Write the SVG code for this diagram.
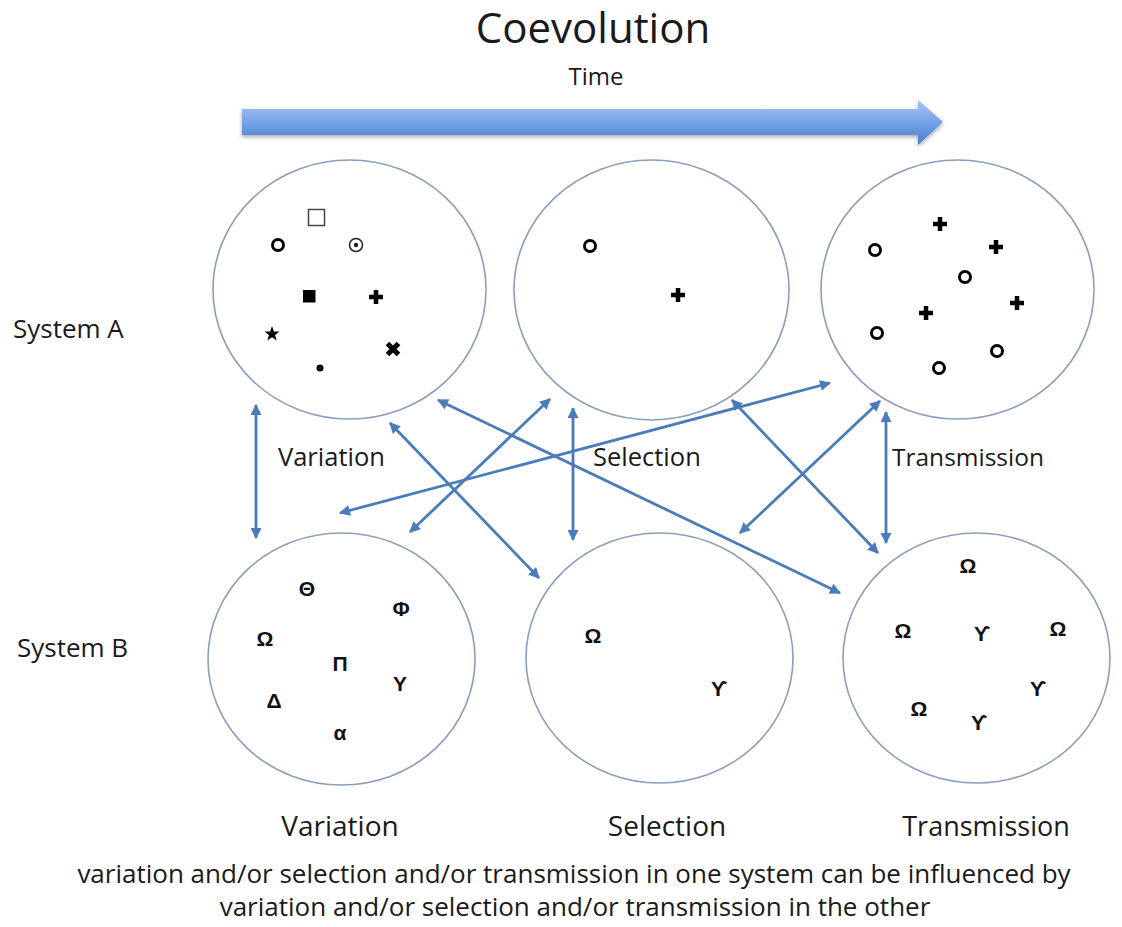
<svg xmlns="http://www.w3.org/2000/svg" xmlns:xlink="http://www.w3.org/1999/xlink" width="1122" height="927" viewBox="0 0 1122 927">
<defs>
<style>
.circ{fill:none;stroke:#8b9ebb;stroke-width:1.6}
.conn line{stroke:#4a7cba;stroke-width:2.8;marker-start:url(#ah);marker-end:url(#ah)}
.lbl{font-family:"Open Sans","Liberation Sans",sans-serif;fill:#1a1a1a}
.gk{font-family:"Liberation Sans","DejaVu Sans",sans-serif;font-weight:bold;font-size:21px;text-anchor:middle;fill:#111}
.ring{fill:none;stroke:#000;stroke-width:3}
.plus{fill:none;stroke:#000;stroke-width:4.5}
</style>
<marker id="ah" viewBox="0 0 10 10" refX="9" refY="5" markerWidth="12" markerHeight="11" markerUnits="userSpaceOnUse" orient="auto-start-reverse">
<path d="M0,0 L10,5 L0,10 z" fill="#4a7cba"/>
</marker>
<linearGradient id="tg" x1="0" y1="0" x2="0" y2="1">
<stop offset="0" stop-color="#a9c7f2"/>
<stop offset="0.5" stop-color="#74a2e6"/>
<stop offset="1" stop-color="#4d7dc6"/>
</linearGradient>
<filter id="sh" x="-5%" y="-50%" width="110%" height="200%">
<feDropShadow dx="0" dy="2" stdDeviation="2" flood-color="#000" flood-opacity="0.35"/>
</filter>
<circle id="ring" r="5.5" class="ring"/>
<path id="plus" d="M-7,0H7M0,-7V7" class="plus"/>
</defs>

<g id="title">
<text class="lbl" x="593" y="43" font-size="42" text-anchor="middle">Coevolution</text>
<text class="lbl" x="596" y="85" font-size="24" text-anchor="middle">Time</text>
<path d="M242,109 H918 V100 L943,122 L918,145 V135 H242 Z" fill="url(#tg)" filter="url(#sh)"/>
</g>

<g id="row-labels">
<text class="lbl" x="13" y="338" font-size="26">System A</text>
<text class="lbl" x="17" y="657" font-size="26">System B</text>
</g>

<g id="A-variation">
<ellipse class="circ" cx="349.5" cy="289.5" rx="136.5" ry="129.5"/>
<rect x="308.5" y="209.5" width="16" height="16" fill="none" stroke="#444" stroke-width="1.5"/>
<use xlink:href="#ring" x="278" y="245"/>
<circle cx="356" cy="245" r="6.5" fill="none" stroke="#222" stroke-width="1.5"/>
<circle cx="356" cy="245" r="2.2" fill="#222"/>
<rect x="303" y="290" width="12.5" height="12.5" fill="#000"/>
<use xlink:href="#plus" x="376" y="297"/>
<polygon transform="translate(272,334)" points="0,-8 1.88,-2.59 7.61,-2.47 3.04,0.99 4.7,6.47 0,3.2 -4.7,6.47 -3.04,0.99 -7.61,-2.47 -1.88,-2.59" fill="#000"/>
<path d="M387.5,343.5 L398.5,354.5 M398.5,343.5 L387.5,354.5" stroke="#000" stroke-width="5"/>
<circle cx="320" cy="368" r="3.5" fill="#000"/>
</g>

<g id="A-selection">
<ellipse class="circ" cx="651.5" cy="290" rx="137.5" ry="130"/>
<use xlink:href="#ring" x="590" y="246"/>
<use xlink:href="#plus" x="678" y="295"/>
</g>

<g id="A-transmission">
<ellipse class="circ" cx="957.5" cy="289.5" rx="136.5" ry="129.5"/>
<use xlink:href="#plus" x="940" y="224"/>
<use xlink:href="#plus" x="996" y="247"/>
<use xlink:href="#ring" x="875" y="250"/>
<use xlink:href="#ring" x="965" y="277"/>
<use xlink:href="#plus" x="1017" y="303"/>
<use xlink:href="#plus" x="926" y="313"/>
<use xlink:href="#ring" x="877" y="333"/>
<use xlink:href="#ring" x="997" y="351"/>
<use xlink:href="#ring" x="939" y="368"/>
</g>

<g id="B-variation">
<ellipse class="circ" cx="341.5" cy="659" rx="133.5" ry="126"/>
<text class="gk" x="307" y="596">Θ</text>
<text class="gk" x="401" y="616">Φ</text>
<text class="gk" x="265" y="646">Ω</text>
<text class="gk" x="340" y="671">Π</text>
<text class="gk" x="400" y="691">Υ</text>
<text class="gk" x="274" y="708">Δ</text>
<text class="gk" x="340" y="740">α</text>
</g>

<g id="B-selection">
<ellipse class="circ" cx="659.5" cy="658" rx="133.5" ry="125"/>
<text class="gk" x="593" y="643">Ω</text>
<text class="gk" x="719" y="696">ϒ</text>
</g>

<g id="B-transmission">
<ellipse class="circ" cx="976.5" cy="658" rx="133.5" ry="125"/>
<text class="gk" x="968" y="573">Ω</text>
<text class="gk" x="903" y="638">Ω</text>
<text class="gk" x="982" y="641">ϒ</text>
<text class="gk" x="1058" y="636">Ω</text>
<text class="gk" x="1038" y="696">ϒ</text>
<text class="gk" x="919" y="716">Ω</text>
<text class="gk" x="979" y="730">ϒ</text>
</g>

<g id="connectors" class="conn">
<line x1="256" y1="405" x2="256" y2="538"/>
<line x1="573" y1="408" x2="573" y2="540"/>
<line x1="886" y1="412" x2="886" y2="543"/>
<line x1="390" y1="423" x2="539" y2="578"/>
<line x1="438" y1="400" x2="840" y2="593"/>
<line x1="550" y1="399" x2="410" y2="532"/>
<line x1="340" y1="513" x2="830" y2="383"/>
<line x1="732" y1="400" x2="878" y2="553"/>
<line x1="880" y1="401" x2="740" y2="533"/>
</g>

<g id="mid-labels">
<text class="lbl" x="278" y="466" font-size="25.5">Variation</text>
<text class="lbl" x="593" y="466" font-size="25.5">Selection</text>
<text class="lbl" x="892" y="466" font-size="24.5">Transmission</text>
</g>

<g id="bottom-labels">
<text class="lbl" x="340" y="836" font-size="28" text-anchor="middle">Variation</text>
<text class="lbl" x="667" y="836" font-size="28" text-anchor="middle">Selection</text>
<text class="lbl" x="986" y="836" font-size="27" text-anchor="middle">Transmission</text>
<text class="lbl" x="574" y="883" font-size="26" text-anchor="middle">variation and/or selection and/or transmission in one system can be influenced by</text>
<text class="lbl" x="575" y="916" font-size="26" text-anchor="middle">variation and/or selection and/or transmission in the other</text>
</g>
</svg>
